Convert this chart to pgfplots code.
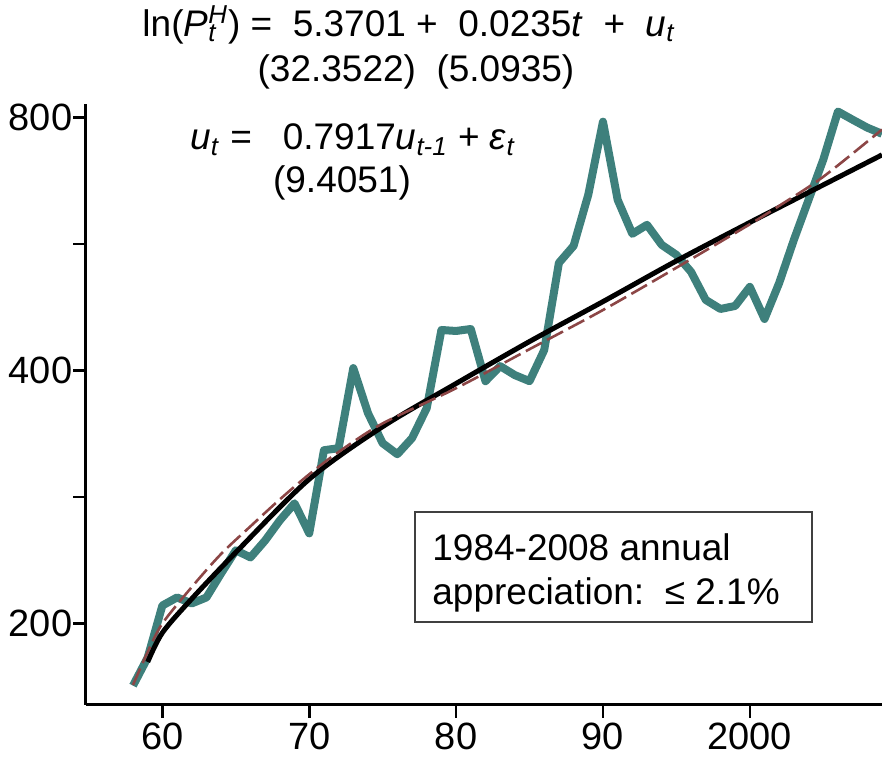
\documentclass[border=0pt]{standalone}
\usepackage{fontspec}
\setmainfont{Liberation Sans}
\usepackage{pgfplots}
\pgfplotsset{compat=1.18}
\usetikzlibrary{calc}
\definecolor{teal1}{RGB}{62,128,124}
\definecolor{maroon1}{RGB}{140,70,70}
\begin{document}
\fontsize{18.5}{22}\selectfont
\begin{tikzpicture}
\begin{axis}[name=ax, scale only axis, width=398pt, height=300.5pt,
 xmin=1954.8, xmax=2009.0, ymode=log, ymin=160, ymax=830,
 axis x line*=bottom, axis y line*=left, axis line style={line width=1.5pt,-},
 xtick={1960,1970,1980,1990,2000}, xticklabels={60,70,80,90,2000},
 ytick={200,282.8,400,565.7,800}, yticklabels={200,,400,,800},
 tick align=outside, major tick length=6.5pt, tick style={line width=1.3pt, black},
 minor tick num=0, /pgf/number format/assume math mode=true,
 ticklabel style={font=\fontsize{19}{22}\selectfont},
 yticklabel style={xshift=6pt},
 xticklabel style={yshift=4pt},
 ]
\addplot[teal1, line width=4pt, line join=round] coordinates {
(1958,168.7) (1959,182.2) (1960,210.1) (1961,214.8) (1962,211.3) (1963,214.8)
(1964,229.4) (1965,244.4) (1966,239.7) (1967,251.1) (1968,265.3) (1969,278.0)
(1970,256.0) (1971,321.5) (1972,323.3) (1973,402.6) (1974,355.9) (1975,327.7)
(1976,318.0) (1977,332.3) (1978,360.8) (1979,446.9) (1980,445.7) (1981,448.1)
(1982,388.5) (1983,404.8) (1984,395.0) (1985,388.5) (1986,423.0) (1987,537.1)
(1988,562.7) (1989,647.3) (1990,790.8) (1991,638.4) (1992,581.6) (1993,596.1)
(1994,564.3) (1995,549.0) (1996,524.0) (1997,485.2) (1998,473.4) (1999,477.3)
(2000,502.9) (2001,460.6) (2002,508.4) (2003,572.1) (2004,638.4) (2005,712.5)
(2006,813.0) (2007,795.1) (2008,777.9) (2009,765.0)
};
\addplot[black, line width=2.5pt, smooth] coordinates {
(1959,180) (1960,195) (1962,214) (1965,243) (1970,297) (1975,343) (1980,386)
(1985,433) (1990,483) (1995,540) (2000,600) (2005,665) (2009,722)
};
\addplot[maroon1, line width=1.3pt, dash pattern=on 9pt off 3pt, smooth] coordinates {
(1958,169) (1959,185) (1960,200) (1962,221) (1964,242) (1966,261) (1968,281)
(1970,301) (1972,320) (1975,346) (1980,381) (1985,424) (1990,472) (1995,530)
(2000,597) (2002,628) (2005,680) (2009,774)
};
\end{axis}
\begin{scope}[shift={(ax.south west)}, xshift=-43pt, yshift=352.5pt, x=0.5pt, y=-0.5pt]
\node at (409,25) {ln(\textit{P}\rlap{\textsubscript{\textit{t}}}\textsuperscript{\textit{H}}) = \ 5.3701 + \ 0.0235\textit{t} \ + \ \textit{u}\textsubscript{\textit{t}}};
\node at (416,72) {(32.3522) \ (5.0935)};
\node[anchor=west, inner sep=0pt] at (190,140) {\textit{u}\textsubscript{\textit{t}} = \ \ 0.7917\textit{u}\textsubscript{\textit{t-1}} + \textit{ε}\textsubscript{\textit{t}}};
\node at (342,183) {(9.4051)};
\draw[black!75, line width=0.6pt] (415,512) rectangle (812,622);
\node[anchor=base west, inner sep=0pt] at (432,560) {1984-2008 annual};
\node[anchor=base west, inner sep=0pt] at (432,604) {appreciation:\ \ ≤ 2.1\%};
\pgfresetboundingbox
\path (0,0) rectangle (882,762);
\end{scope}
\end{tikzpicture}
\end{document}
